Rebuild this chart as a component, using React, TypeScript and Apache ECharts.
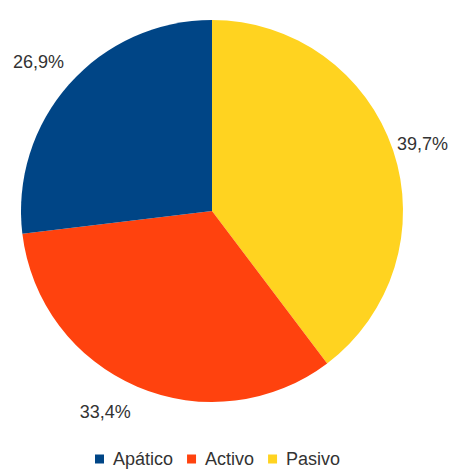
import React, { useEffect, useRef } from "react";
import * as echarts from "echarts";

const categories = ["Pasivo", "Activo", "Apático"];
const values = [39.7, 33.4, 26.9];
const colors = ["#ffd320", "#ff420e", "#004586"];
const legendOrder = ["Apático", "Activo", "Pasivo"];
const labelDx = [-5, 0, 3];
const labelDy = [-5, 22, -20];

export default function App() {
  const ref = useRef<HTMLDivElement>(null);
  useEffect(() => {
    if (!ref.current) return;
    const chart = echarts.init(ref.current, undefined, { renderer: "svg" });
    chart.setOption({
      animation: false,
      backgroundColor: "#ffffff",
      legend: {
        data: legendOrder,
        top: 450,
        left: 95,
        padding: 0,
        icon: "rect",
        itemWidth: 9,
        itemHeight: 9,
        itemGap: 14,
        textStyle: {
          fontFamily: "Liberation Sans",
          fontSize: 18,
          lineHeight: 18,
          color: "#333333",
          padding: [0, 0, 0, 4],
        },
      },
      series: [
        {
          type: "pie",
          center: [212, 211],
          radius: 191,
          startAngle: 90,
          clockwise: true,
          data: categories.map((c, i) => ({
            name: c,
            value: values[i],
            itemStyle: { color: colors[i] },
          })),
          label: {
            show: true,
            position: "outside",
            overflow: "none",
            fontFamily: "Liberation Sans",
            fontSize: 18,
            color: "#333333",
            formatter: (p: any) => p.value.toFixed(1).replace(".", ",") + "%",
          },
          labelLine: { show: false, length: 4, length2: 0 },
          labelLayout: (p: any) => ({ dx: labelDx[p.dataIndex], dy: labelDy[p.dataIndex] }),
          emphasis: { disabled: true },
        },
      ],
    });
    return () => chart.dispose();
  }, []);
  return (
    <div
      ref={ref}
      style={{ position: "absolute", left: 0, top: 0, width: 450, height: 469 }}
    />
  );
}
